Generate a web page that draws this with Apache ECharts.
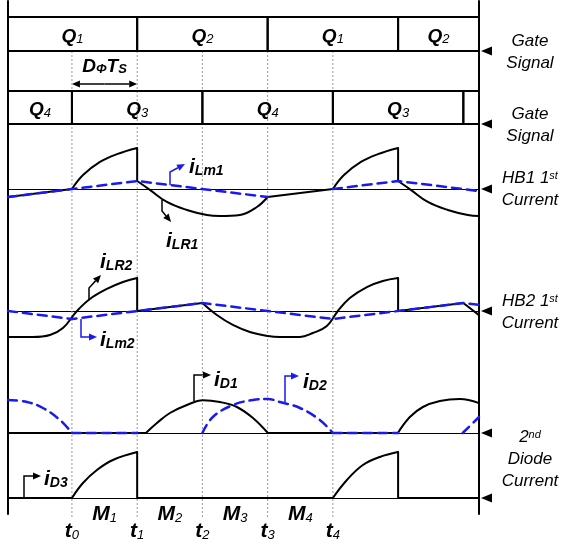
<!doctype html>
<html>
<head>
<meta charset="utf-8">
<title>Gate signals and currents</title>
<script src="https://cdn.jsdelivr.net/npm/echarts@6/dist/echarts.min.js"></script>
<style>
html, body { margin: 0; background: #fff; }
#main { width: 563px; height: 548px; }
</style>
</head>
<body>
<div id="main"></div>
<script>
// ---- data (time in switching intervals, current in per-unit) ----
var tMin = -0.98, tMax = 6.24;
var GAP = [null, null];

var switchTimes = [0, 1, 2, 3, 4];
var timeLabels = ['0', '1', '2', '3', '4'];
var modeLabels = ['1', '2', '3', '4'];

// [start, end, subscript of Q]
var gateRow1 = [[-0.98, 1, '1'], [1, 3, '2'], [3, 5, '1'], [5, 6.24, '2']];
var gateRow2 = [[-0.98, 0, '4'], [0, 2, '3'], [2, 4, '4'], [4, 6, '3'], [6, 6.24, '']];

var iLR1 = [
    [-0.98, -0.195], [0, 0], GAP,
    [0, 0], [0.17, 0.34], [0.43, 0.66], [0.69, 0.85], [1, 1.0], GAP,
    [1, 1.0], [1, 0.195], GAP,
    [1, 0.195], [1.195, -0.02], [1.456, -0.317], [1.762, -0.512], [2.069, -0.634], [2.268, -0.659], [2.575, -0.634], [2.835, -0.439], [3, -0.195], GAP,
    [3, -0.195], [4, 0], GAP,
    [4, 0], [4.17, 0.34], [4.43, 0.66], [4.69, 0.85], [5, 1.0], GAP,
    [5, 1.0], [5, 0.195], GAP,
    [5, 0.195], [5.195, -0.02], [5.456, -0.317], [5.762, -0.512], [6.069, -0.634], [6.24, -0.659]
];
var iLm1 = [[-0.98, -0.195], [1, 0.195], [3, -0.195], GAP, [4, 0], [5, 0.195], [6.24, -0.05]];

var iLR2 = [
    [-0.98, -0.634], [-0.6, -0.634], [-0.337, -0.585], [-0.138, -0.415], [0.077, 0], [0.276, 0.293], [0.536, 0.537], [0.782, 0.707], [1, 0.805], GAP,
    [1, 0.805], [1, 0], GAP,
    [1, 0], [2, 0.195], GAP,
    [2, 0.195], [2.222, -0.098], [2.467, -0.341], [2.728, -0.512], [3.004, -0.61], [3.188, -0.634], [3.494, -0.634], [3.693, -0.537], [3.908, -0.366], [4.077, 0], [4.26, 0.317], [4.521, 0.585], [4.766, 0.732], [5, 0.805], GAP,
    [5, 0.805], [5, 0], GAP,
    [5, 0], [6, 0.195], GAP,
    [6, 0.195], [6.24, -0.1]
];
var iLm2 = [[-0.98, 0], [0, -0.195], [2, 0.195], [4, -0.195], [6, 0.195], [6.24, 0.15]];

var iD1 = [
    [-0.98, 0], [1.134, 0], GAP,
    [1.134, 0], [1.303, 0.244], [1.502, 0.488], [1.762, 0.683], [2.008, 0.8], [2.268, 0.756], [2.529, 0.634], [2.774, 0.366], [3.004, 0], GAP,
    [3.004, 0], [4.996, 0], GAP,
    [4.996, 0], [5.18, 0.39], [5.38, 0.634], [5.64, 0.78], [5.946, 0.83], [6.24, 0.73]
];
var iD2 = [
    [-0.98, 0.805], [-0.69, 0.756], [-0.445, 0.61], [-0.184, 0.317], [0, 0], GAP,
    [0, 0], [1, 0], GAP,
    [2, 0], [2.16, 0.39], [2.467, 0.683], [2.774, 0.805], [3.004, 0.83], [3.188, 0.756], [3.494, 0.61], [3.8, 0.317], [4, 0], GAP,
    [4, 0], [5, 0], GAP,
    [5.99, 0], [6.24, 0.39]
];
var iD3 = [
    [-0.98, 0], [0, 0], GAP,
    [0, 0], [0.169, 0.366], [0.383, 0.683], [0.628, 0.927], [1, 1.12], GAP,
    [1, 1.12], [1, 0], GAP,
    [1, 0], [4, 0], GAP,
    [4, 0], [4.215, 0.439], [4.46, 0.805], [4.72, 1.0], [4.996, 1.12], GAP,
    [5, 1.12], [5, 0], GAP,
    [5, 0], [6.24, 0]
];

var sideLabels = [
    ['Gate', 'Signal'],
    ['Gate', 'Signal'],
    ['HB1 1{p|st}', 'Current'],
    ['HB2 1{p|st}', 'Current'],
    ['2{p|nd}', 'Diode', 'Current']
];

// ---- layout ----
var FONT = '"Liberation Sans", Arial, sans-serif';
var BLUE = '#1a1af0';
var L = 8, W = 471, S = 41;
function px(t) { return L + (t - tMin) / (tMax - tMin) * W; }

var grids = [
    {top: 1, height: 513},                // frame
    {top: 51, height: 467},               // switching instants
    {top: 17, height: 34},                // gate row 1
    {top: 91, height: 33},                // gate row 2
    {top: 189 - 1.5 * S, height: 3 * S},  // HB1
    {top: 311 - 1.5 * S, height: 3 * S},  // HB2
    {top: 433 - 1.5 * S, height: 2 * S},  // 2nd diode
    {top: 498 - 1.5 * S, height: 2 * S}   // D3
];
var yRanges = [[0, 1], [0, 1], [0, 1], [0, 1], [-1.5, 1.5], [-1.5, 1.5], [-0.5, 1.5], [-0.5, 1.5]];
var zeroY = [51, 124, 189, 311, 433, 498];
var labelY = [51, 124, 188, 311, 458];

grids.forEach(function (g) { g.left = L; g.width = W; g.outerBoundsMode = 'none'; });

var xAxes = grids.map(function (g, i) {
    return {
        type: 'value', gridIndex: i, min: tMin, max: tMax, show: i >= 4,
        axisLine: {onZero: true, lineStyle: {color: '#000', width: 1}},
        axisTick: {show: false}, axisLabel: {show: false}, splitLine: {show: false}
    };
});
var yAxes = grids.map(function (g, i) {
    return {
        type: 'value', gridIndex: i, min: yRanges[i][0], max: yRanges[i][1], show: i === 0,
        axisLine: {show: true, onZero: false, lineStyle: {color: '#000', width: 2}},
        axisTick: {show: false}, axisLabel: {show: false}, splitLine: {show: false}
    };
});
yAxes.push({
    type: 'value', gridIndex: 0, position: 'right', min: 0, max: 1,
    axisLine: {show: true, onZero: false, lineStyle: {color: '#000', width: 2}},
    axisTick: {show: false}, axisLabel: {show: false}, splitLine: {show: false}
});

function rich(color, big, sub, subBold) {
    return {
        b: {fontFamily: FONT, fontSize: big, fontWeight: 'bold', fontStyle: 'italic', color: color, lineHeight: 24, verticalAlign: 'bottom'},
        s: {fontFamily: FONT, fontSize: sub, fontWeight: subBold ? 'bold' : 'normal', fontStyle: 'italic', color: color, lineHeight: 14, verticalAlign: 'bottom'}
    };
}
function subText(x, yc, big, sub, r, align) {
    return {
        type: 'text', silent: true,
        style: {x: x, y: yc + 12, text: '{b|' + big + '}' + (sub ? '{s|' + sub + '}' : ''), rich: r,
            align: align || 'center', verticalAlign: 'bottom'}
    };
}
function arrow(pts, color) {
    var n = pts.length, a = pts[n - 2], b = pts[n - 1];
    var ang = Math.atan2(b[1] - a[1], b[0] - a[0]);
    var len = 8, wid = 3.5, c = Math.cos(ang), s = Math.sin(ang);
    var base = [b[0] - len * c, b[1] - len * s];
    return [
        {type: 'polyline', silent: true, shape: {points: pts.slice(0, n - 1).concat([base])},
            style: {stroke: color, lineWidth: 1.5, fill: null}},
        {type: 'polygon', silent: true, shape: {points: [b, [base[0] + wid * s, base[1] - wid * c], [base[0] - wid * s, base[1] + wid * c]]},
            style: {fill: color}}
    ];
}

var qRich = rich('#000', 19, 13, false);
function gateSeries(rows, gi) {
    return {
        type: 'custom', xAxisIndex: gi, yAxisIndex: gi, z: 4, silent: true,
        data: rows.map(function (r) { return [(r[0] + r[1]) / 2, 0.5]; }),
        renderItem: function (params, api) {
            var r = rows[params.dataIndex];
            var p0 = api.coord([r[0], 1]), p1 = api.coord([r[1], 0]);
            var kids = [{type: 'rect', shape: {x: p0[0], y: p0[1], width: p1[0] - p0[0], height: p1[1] - p0[1]},
                style: {fill: 'none', stroke: '#000', lineWidth: 2}}];
            if (r[2]) kids.push(subText((p0[0] + p1[0]) / 2, (p0[1] + p1[1]) / 2, 'Q', r[2], qRich));
            return {type: 'group', children: kids};
        }
    };
}
function wave(data, gi, color, dashed, curved) {
    return {
        type: 'line', xAxisIndex: gi, yAxisIndex: gi, data: data, symbol: 'none', smooth: curved ? 0.4 : false,
        silent: true, clip: false, z: dashed ? 3 : 2,
        lineStyle: {color: color, width: dashed ? 2.5 : 2, type: dashed ? [9, 6] : 'solid', cap: 'round', join: 'round'}
    };
}

var series = [
    {
        type: 'custom', xAxisIndex: 1, yAxisIndex: 1, silent: true, z: 1,
        data: switchTimes.map(function (t) { return [t, 0]; }),
        renderItem: function (params, api) {
            var top = api.coord([api.value(0), 1]), bot = api.coord([api.value(0), 0]);
            return {type: 'line', shape: {x1: top[0], y1: top[1], x2: bot[0], y2: bot[1]},
                style: {stroke: '#999', lineWidth: 1, lineDash: [2, 2]}};
        }
    },
    gateSeries(gateRow1, 2),
    gateSeries(gateRow2, 3),
    wave(iLR1, 4, '#000', false, true),
    wave(iLm1, 4, BLUE, true, false),
    wave(iLR2, 5, '#000', false, true),
    wave(iLm2, 5, BLUE, true, false),
    wave(iD1, 6, '#000', false, true),
    wave(iD2, 6, BLUE, true, true),
    wave(iD3, 7, '#000', false, true)
];

// ---- annotations ----
var g = [];
var xr = px(tMax);
zeroY.forEach(function (y) {
    g.push({type: 'polygon', silent: true, shape: {points: [[xr + 2, y], [xr + 13, y - 4.5], [xr + 13, y + 4.5]]}, style: {fill: '#000'}});
});
var sideRich = {
    n: {fontFamily: FONT, fontSize: 17, fontStyle: 'italic', color: '#111', lineHeight: 20, verticalAlign: 'top'},
    p: {fontFamily: FONT, fontSize: 11, fontStyle: 'italic', color: '#111', lineHeight: 12, verticalAlign: 'top'}
};
sideLabels.forEach(function (lines, k) {
    var y0 = labelY[k] - (lines.length - 1) * 11;
    lines.forEach(function (txt, j) {
        var t = txt.replace(/^([^{]+)/, '{n|$1}');
        g.push({type: 'text', silent: true, style: {x: 530, y: y0 + j * 22 + 13, text: t, rich: sideRich, align: 'center', verticalAlign: 'bottom'}});
    });
});

// D_phi T_s with its double arrow
var dRich = rich('#000', 19, 13, true);
g.push({type: 'text', silent: true, style: {x: (px(0) + px(1)) / 2, y: 76,
    text: '{b|D}{s|Φ}{b|T}{s|S}', rich: dRich, align: 'center', verticalAlign: 'bottom'}});
var midA = (px(0) + px(1)) / 2;
g = g.concat(arrow([[midA, 84], [px(0), 84]], '#000'), arrow([[midA, 84], [px(1), 84]], '#000'));

// current labels
var bRich = {
    b: {fontFamily: FONT, fontSize: 21, fontWeight: 'bold', fontStyle: 'italic', color: '#000', lineHeight: 24, verticalAlign: 'bottom'},
    s: {fontFamily: FONT, fontSize: 14, fontWeight: 'bold', fontStyle: 'italic', color: '#000', lineHeight: 14, verticalAlign: 'bottom'}
};
var blRich = {
    b: {fontFamily: FONT, fontSize: 21, fontWeight: 'bold', fontStyle: 'italic', color: BLUE, lineHeight: 24, verticalAlign: 'bottom'},
    s: {fontFamily: FONT, fontSize: 14, fontWeight: 'bold', fontStyle: 'italic', color: BLUE, lineHeight: 14, verticalAlign: 'bottom'}
};
var notes = [
    {name: 'Lm1', blue: true, at: [189, 166], path: [[170, 185], [170, 172], [185, 164]]},
    {name: 'LR1', blue: false, at: [166, 240], path: [[162, 200], [162, 211], [171, 222]]},
    {name: 'LR2', blue: false, at: [100, 261], path: [[89, 300], [89, 288], [101, 275]]},
    {name: 'Lm2', blue: true, at: [100, 339], path: [[81, 319], [81, 337], [97, 337]]},
    {name: 'D1', blue: false, at: [214, 379], path: [[194, 401], [194, 375], [211, 375]]},
    {name: 'D2', blue: true, at: [303, 381], path: [[285, 402], [285, 376], [299, 376]]},
    {name: 'D3', blue: false, at: [44, 478], path: [[24, 498], [24, 476], [41, 476]]}
];
notes.forEach(function (n) {
    var col = n.blue ? BLUE : '#000';
    g = g.concat(arrow(n.path, col));
    g.push(subText(n.at[0], n.at[1], 'i', n.name, n.blue ? blRich : bRich, 'left'));
});

// time instants and modes
var tRich = rich('#000', 21, 13, false);
switchTimes.forEach(function (t, k) {
    g.push(subText(px(t), 530, 't', timeLabels[k], tRich));
});
modeLabels.forEach(function (m, k) {
    g.push(subText(px(switchTimes[k] + 0.5), 513, 'M', m, tRich));
});

var chart = echarts.init(document.getElementById('main'));
chart.setOption({
    animation: false,
    backgroundColor: '#fff',
    grid: grids,
    xAxis: xAxes,
    yAxis: yAxes,
    series: series,
    graphic: g
});
</script>
</body>
</html>
